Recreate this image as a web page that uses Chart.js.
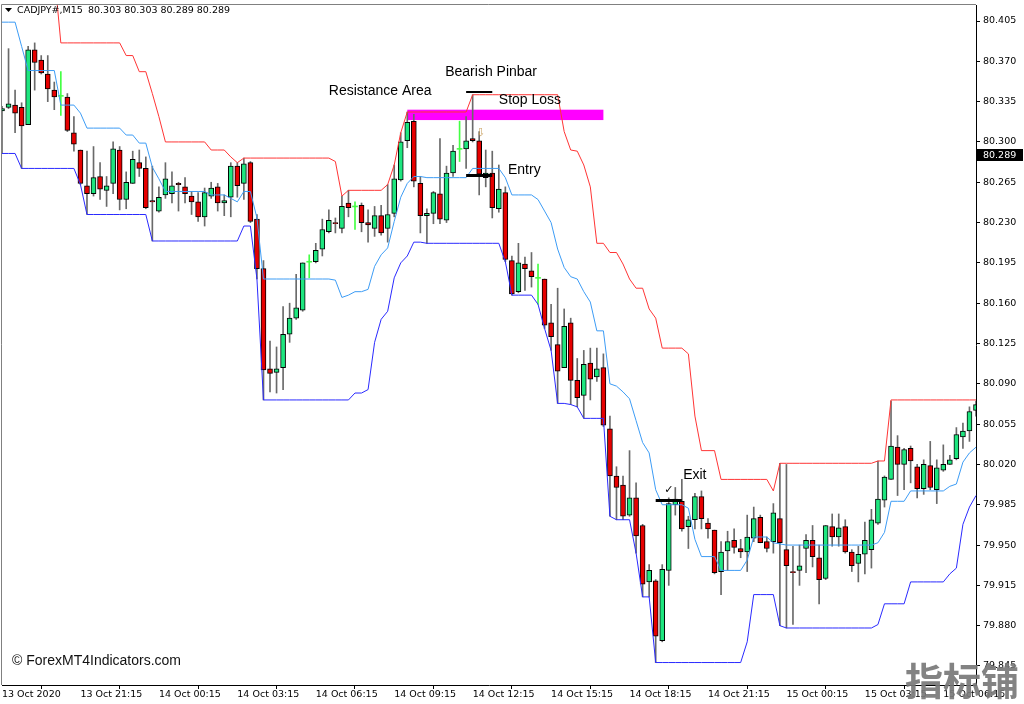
<!DOCTYPE html>
<html>
<head>
<meta charset="utf-8">
<script src="https://cdn.jsdelivr.net/npm/chart.js@4.4.0/dist/chart.umd.min.js"></script>
<style>
  html, body { margin: 0; padding: 0; background: #fff; }
  #wrap { position: relative; width: 1024px; height: 704px; }
</style>
</head>
<body>
<div id="wrap"><canvas id="myChart" width="1024" height="704"></canvas></div>
<script>
// CADJPY M15 candles (bar 0 = 13 Oct 18:15)
let opens = [
  80.327, 80.330, 80.332, 80.330, 80.315, 80.380, 80.371, 80.359, 80.345, 80.340,
  80.339, 80.308, 80.293, 80.262, 80.255, 80.270, 80.258, 80.264, 80.293, 80.250,
  80.264, 80.282, 80.277, 80.249, 80.240, 80.254, 80.255, 80.264, 80.261, 80.253,
  80.248, 80.235, 80.253, 80.261, 80.247, 80.252, 80.279, 80.264, 80.282, 80.233,
  80.190, 80.103, 80.100, 80.104, 80.133, 80.147, 80.154, 80.196, 80.196, 80.207,
  80.222, 80.230, 80.225, 80.247, 80.244, 80.245, 80.230, 80.225, 80.236, 80.225,
  80.238, 80.267, 80.301, 80.318, 80.264, 80.236, 80.238, 80.255, 80.232, 80.273,
  80.294, 80.294, 80.303, 80.301, 80.269, 80.273, 80.242, 80.256, 80.197, 80.170,
  80.194, 80.188, 80.182, 80.181, 80.143, 80.124, 80.104, 80.143, 80.093, 80.080,
  80.108, 80.096, 80.104, 80.051, 80.010, 80.002, 79.976, 79.991, 79.967, 79.918,
  79.919, 79.867, 79.928, 79.985, 79.988, 79.966, 79.972, 79.992, 79.969, 79.963,
  79.927, 79.945, 79.954, 79.947, 79.944, 79.956, 79.974, 79.953, 79.953, 79.973,
  79.946, 79.927, 79.928, 79.947, 79.954, 79.939, 79.921, 79.966, 79.957, 79.966,
  79.944, 79.934, 79.942, 79.946, 79.969, 79.989, 80.007, 80.035, 80.020, 80.034,
  80.018, 79.999, 80.019, 79.998, 80.015, 80.020, 80.025, 80.044, 80.049, 80.067
];
let highs = [
  80.331, 80.381, 80.345, 80.334, 80.383, 80.386, 80.375, 80.375, 80.352, 80.361,
  80.342, 80.322, 80.293, 80.292, 80.296, 80.282, 80.270, 80.300, 80.296, 80.274,
  80.292, 80.293, 80.287, 80.279, 80.261, 80.282, 80.274, 80.265, 80.269, 80.257,
  80.256, 80.260, 80.265, 80.264, 80.254, 80.282, 80.282, 80.286, 80.283, 80.237,
  80.197, 80.127, 80.122, 80.157, 80.160, 80.185, 80.195, 80.202, 80.212, 80.233,
  80.241, 80.234, 80.253, 80.258, 80.248, 80.247, 80.241, 80.244, 80.245, 80.263,
  80.280, 80.308, 80.326, 80.324, 80.270, 80.242, 80.257, 80.303, 80.279, 80.297,
  80.318, 80.322, 80.341, 80.309, 80.293, 80.292, 80.280, 80.261, 80.201, 80.212,
  80.200, 80.204, 80.194, 80.181, 80.159, 80.173, 80.155, 80.147, 80.112, 80.119,
  80.121, 80.121, 80.116, 80.062, 80.018, 80.010, 80.032, 80.004, 79.968, 79.933,
  79.920, 79.933, 79.991, 80.000, 80.007, 79.975, 79.995, 79.997, 79.973, 79.963,
  79.953, 79.962, 79.964, 79.955, 79.976, 79.983, 79.976, 79.957, 79.986, 80.021,
  80.020, 79.949, 79.950, 79.959, 79.967, 79.950, 79.967, 79.977, 79.977, 79.972,
  79.946, 79.949, 79.970, 79.981, 80.023, 80.010, 80.075, 80.045, 80.034, 80.036,
  80.020, 80.024, 80.040, 80.024, 80.037, 80.028, 80.052, 80.056, 80.070, 80.075
];
let lows = [
  80.290, 80.329, 80.308, 80.277, 80.315, 80.345, 80.359, 80.335, 80.328, 80.323,
  80.309, 80.292, 80.263, 80.237, 80.253, 80.250, 80.244, 80.255, 80.241, 80.242,
  80.264, 80.270, 80.242, 80.214, 80.239, 80.251, 80.247, 80.240, 80.247, 80.237,
  80.231, 80.227, 80.251, 80.240, 80.236, 80.235, 80.252, 80.250, 80.230, 80.181,
  80.076, 80.083, 80.082, 80.085, 80.126, 80.146, 80.153, 80.182, 80.195, 80.201,
  80.221, 80.221, 80.221, 80.235, 80.224, 80.222, 80.213, 80.218, 80.219, 80.213,
  80.235, 80.266, 80.295, 80.261, 80.221, 80.212, 80.229, 80.229, 80.230, 80.270,
  80.283, 80.277, 80.300, 80.254, 80.261, 80.234, 80.239, 80.196, 80.167, 80.169,
  80.171, 80.174, 80.159, 80.138, 80.119, 80.073, 80.104, 80.072, 80.070, 80.060,
  80.076, 80.092, 80.053, 79.975, 79.972, 79.972, 79.975, 79.943, 79.905, 79.905,
  79.848, 79.866, 79.915, 79.976, 79.962, 79.947, 79.964, 79.964, 79.956, 79.925,
  79.907, 79.928, 79.943, 79.939, 79.927, 79.953, 79.952, 79.944, 79.943, 79.880,
  79.878, 79.881, 79.915, 79.926, 79.931, 79.899, 79.920, 79.949, 79.949, 79.943,
  79.927, 79.918, 79.925, 79.930, 79.968, 79.983, 80.007, 79.993, 79.998, 80.004,
  79.991, 79.994, 79.998, 79.986, 80.014, 80.020, 80.024, 80.034, 80.040, 80.062
];
let closes = [
  80.329, 80.333, 80.325, 80.314, 80.380, 80.369, 80.360, 80.346, 80.339, 80.340,
  80.310, 80.298, 80.264, 80.255, 80.269, 80.259, 80.262, 80.294, 80.250, 80.265,
  80.285, 80.277, 80.243, 80.248, 80.252, 80.268, 80.262, 80.263, 80.255, 80.248,
  80.235, 80.256, 80.260, 80.247, 80.249, 80.279, 80.262, 80.281, 80.231, 80.190,
  80.102, 80.099, 80.103, 80.133, 80.147, 80.156, 80.195, 80.196, 80.206, 80.224,
  80.232, 80.229, 80.244, 80.243, 80.244, 80.230, 80.228, 80.236, 80.221, 80.237,
  80.268, 80.300, 80.317, 80.266, 80.236, 80.238, 80.256, 80.233, 80.273, 80.292,
  80.294, 80.301, 80.301, 80.272, 80.273, 80.243, 80.259, 80.198, 80.168, 80.195,
  80.190, 80.183, 80.182, 80.141, 80.131, 80.101, 80.140, 80.093, 80.078, 80.107,
  80.094, 80.103, 80.054, 80.010, 80.000, 79.975, 79.991, 79.958, 79.916, 79.928,
  79.871, 79.929, 79.986, 79.990, 79.964, 79.972, 79.992, 79.973, 79.964, 79.926,
  79.944, 79.953, 79.948, 79.944, 79.957, 79.973, 79.952, 79.947, 79.978, 79.952,
  79.932, 79.926, 79.932, 79.954, 79.940, 79.920, 79.967, 79.957, 79.965, 79.944,
  79.932, 79.942, 79.954, 79.972, 79.990, 80.009, 80.036, 80.020, 80.033, 80.023,
  79.999, 80.020, 80.000, 80.017, 80.020, 80.024, 80.046, 80.049, 80.066, 80.072
];

// channel lines (upper red, middle light blue, lower blue)
let upperBand = [
  80.518, 80.518, 80.518, 80.447, 80.447, 80.447, 80.447, 80.447, 80.447, 80.386,
  80.386, 80.386, 80.386, 80.386, 80.386, 80.386, 80.386, 80.386, 80.386, 80.375,
  80.375, 80.361, 80.361, 80.342, 80.322, 80.300, 80.300, 80.300, 80.300, 80.300,
  80.300, 80.300, 80.293, 80.293, 80.293, 80.287, 80.282, 80.286, 80.286, 80.286,
  80.286, 80.286, 80.286, 80.286, 80.286, 80.286, 80.286, 80.286, 80.286, 80.286,
  80.286, 80.283, 80.253, 80.258, 80.258, 80.258, 80.258, 80.258, 80.258, 80.263,
  80.280, 80.308, 80.326, 80.326, 80.326, 80.326, 80.326, 80.326, 80.326, 80.326,
  80.326, 80.326, 80.341, 80.341, 80.341, 80.341, 80.341, 80.341, 80.341, 80.341,
  80.341, 80.341, 80.341, 80.341, 80.341, 80.341, 80.309, 80.293, 80.292, 80.280,
  80.261, 80.212, 80.212, 80.204, 80.204, 80.194, 80.181, 80.173, 80.173, 80.155,
  80.147, 80.121, 80.121, 80.121, 80.121, 80.116, 80.062, 80.032, 80.032, 80.032,
  80.007, 80.007, 80.007, 80.007, 80.007, 80.007, 80.007, 80.007, 79.997, 80.021,
  80.021, 80.021, 80.021, 80.021, 80.021, 80.021, 80.021, 80.021, 80.021, 80.021,
  80.021, 80.021, 80.021, 80.021, 80.023, 80.023, 80.076, 80.076, 80.076, 80.076,
  80.076, 80.076, 80.076, 80.076, 80.076, 80.076, 80.076, 80.076, 80.076, 80.076
];
let middleBand = [
  80.404, 80.404, 80.404, 80.383, 80.362, 80.362, 80.362, 80.362, 80.362, 80.332,
  80.332, 80.332, 80.325, 80.312, 80.312, 80.312, 80.312, 80.312, 80.312, 80.306,
  80.306, 80.299, 80.299, 80.278, 80.268, 80.257, 80.257, 80.257, 80.257, 80.257,
  80.257, 80.257, 80.254, 80.254, 80.254, 80.251, 80.248, 80.257, 80.257, 80.234,
  80.181, 80.181, 80.181, 80.181, 80.181, 80.181, 80.181, 80.181, 80.181, 80.181,
  80.181, 80.180, 80.165, 80.167, 80.170, 80.170, 80.172, 80.192, 80.202, 80.208,
  80.231, 80.252, 80.264, 80.270, 80.270, 80.269, 80.269, 80.269, 80.269, 80.269,
  80.269, 80.269, 80.277, 80.277, 80.277, 80.277, 80.277, 80.269, 80.254, 80.254,
  80.254, 80.254, 80.250, 80.240, 80.230, 80.207, 80.191, 80.183, 80.181, 80.170,
  80.161, 80.136, 80.136, 80.090, 80.088, 80.083, 80.077, 80.058, 80.039, 80.030,
  79.998, 79.985, 79.985, 79.985, 79.985, 79.982, 79.955, 79.940, 79.940, 79.940,
  79.928, 79.928, 79.928, 79.928, 79.937, 79.957, 79.957, 79.957, 79.952, 79.951,
  79.950, 79.950, 79.950, 79.950, 79.950, 79.950, 79.950, 79.950, 79.950, 79.950,
  79.950, 79.950, 79.950, 79.950, 79.952, 79.961, 79.988, 79.988, 79.988, 79.997,
  79.997, 79.997, 79.997, 79.997, 79.997, 80.001, 80.003, 80.022, 80.030, 80.035
];
let lowerBand = [
  80.290, 80.290, 80.290, 80.277, 80.277, 80.277, 80.277, 80.277, 80.277, 80.277,
  80.277, 80.277, 80.263, 80.237, 80.237, 80.237, 80.237, 80.237, 80.237, 80.237,
  80.237, 80.237, 80.237, 80.214, 80.214, 80.214, 80.214, 80.214, 80.214, 80.214,
  80.214, 80.214, 80.214, 80.214, 80.214, 80.214, 80.214, 80.227, 80.227, 80.181,
  80.076, 80.076, 80.076, 80.076, 80.076, 80.076, 80.076, 80.076, 80.076, 80.076,
  80.076, 80.076, 80.076, 80.076, 80.082, 80.082, 80.085, 80.126, 80.146, 80.153,
  80.182, 80.195, 80.201, 80.213, 80.213, 80.212, 80.212, 80.212, 80.212, 80.212,
  80.212, 80.212, 80.212, 80.212, 80.212, 80.212, 80.212, 80.196, 80.167, 80.167,
  80.167, 80.167, 80.159, 80.138, 80.119, 80.073, 80.073, 80.072, 80.070, 80.060,
  80.060, 80.060, 80.060, 79.975, 79.972, 79.972, 79.972, 79.943, 79.905, 79.905,
  79.848, 79.848, 79.848, 79.848, 79.848, 79.848, 79.848, 79.848, 79.848, 79.848,
  79.848, 79.848, 79.848, 79.848, 79.866, 79.907, 79.907, 79.907, 79.907, 79.880,
  79.878, 79.878, 79.878, 79.878, 79.878, 79.878, 79.878, 79.878, 79.878, 79.878,
  79.878, 79.878, 79.878, 79.878, 79.881, 79.899, 79.899, 79.899, 79.899, 79.918,
  79.918, 79.918, 79.918, 79.918, 79.918, 79.925, 79.930, 79.968, 79.983, 79.993
];

let priceTicks = [80.405, 80.370, 80.335, 80.300, 80.265, 80.230, 80.195, 80.160,
  80.125, 80.090, 80.055, 80.020, 79.985, 79.950, 79.915, 79.880, 79.845];
let timeTicks = ['13 Oct 2020', '13 Oct 21:15', '14 Oct 00:15', '14 Oct 03:15',
  '14 Oct 06:15', '14 Oct 09:15', '14 Oct 12:15', '14 Oct 15:15', '14 Oct 18:15',
  '14 Oct 21:15', '15 Oct 00:15', '15 Oct 03:15', '15 Oct 06:15'];
let barsPerTick = 12;
let lastPrice = 80.289;

// one category per M15 bar
let barTimes = opens.map(function (o, i) {
  let m = 18 * 60 + 15 + 15 * i;
  let day = 13 + Math.floor(m / 1440);
  m = m % 1440;
  return day + ' Oct ' + String(Math.floor(m / 60)).padStart(2, '0') + ':' + String(m % 60).padStart(2, '0');
});

const BULL = '#1ee67f';
const BEAR = '#e60000';
const DOJI = '#44ff44';
const WICK = '#6a6a6a';
const axisFont = { family: 'DejaVu Sans', size: 9.5 };

function isDoji(i) { return opens[i] === closes[i]; }

// annotations drawn on top of the candles, placed through the scales
const notes = {
  id: 'notes',
  beforeDatasetsDraw(chart) {
    const ctx = chart.ctx, xs = chart.scales.x, ys = chart.scales.y;
    ctx.save();
    ctx.fillStyle = '#ff00ff';
    const x1 = xs.getPixelForValue(62), x2 = xs.getPixelForValue(92);
    const y1 = ys.getPixelForValue(80.328), y2 = ys.getPixelForValue(80.319);
    ctx.fillRect(x1, y1, x2 - x1, y2 - y1);
    ctx.restore();
  },
  afterDatasetsDraw(chart) {
    const ctx = chart.ctx, xs = chart.scales.x, ys = chart.scales.y;
    ctx.save();
    ctx.strokeStyle = '#000';
    ctx.lineCap = 'butt';
    function seg(a, b, price, w) {
      const y = Math.round(ys.getPixelForValue(price)) + (w % 2 ? 0.5 : 0);
      ctx.lineWidth = w;
      ctx.beginPath();
      ctx.moveTo(xs.getPixelForValue(a), y);
      ctx.lineTo(xs.getPixelForValue(b), y);
      ctx.stroke();
    }
    seg(71, 75, 80.3437, 2);
    seg(71, 75, 80.2712, 3);
    seg(100, 104, 79.989, 3);

    ctx.fillStyle = '#000';
    ctx.textBaseline = 'middle';
    ctx.textAlign = 'left';
    ctx.font = '14px "Liberation Sans", Arial, sans-serif';
    function label(txt, idx, price) {
      ctx.fillText(txt, xs.getPixelForValue(idx), ys.getPixelForValue(price));
    }
    label('Resistance Area', 50.0, 80.3442);
    label('Bearish Pinbar', 67.8, 80.3607);
    label('Stop Loss', 76.0, 80.3364);
    label('Entry', 77.4, 80.2756);
    label('Exit', 104.2, 80.0108);
    ctx.font = '11px "DejaVu Sans", sans-serif';
    label('\u2713', 101.3, 79.9978);
    ctx.fillStyle = '#c8a060';
    label('\u21e9', 72.5, 80.3078);
    ctx.restore();
  },
  afterDraw(chart) {
    const ctx = chart.ctx, a = chart.chartArea, ys = chart.scales.y;
    ctx.save();
    // frame around the plot
    ctx.strokeStyle = '#808080';
    ctx.lineWidth = 1;
    ctx.beginPath();
    ctx.moveTo(1.5, a.bottom);
    ctx.lineTo(1.5, a.top - 0.5);
    ctx.lineTo(a.right, a.top - 0.5);
    ctx.stroke();

    // header
    ctx.fillStyle = '#000';
    ctx.textBaseline = 'middle';
    ctx.textAlign = 'left';
    ctx.beginPath();
    ctx.moveTo(5, 8); ctx.lineTo(12, 8); ctx.lineTo(8.5, 12); ctx.closePath();
    ctx.fill();
    ctx.font = '9.5px "DejaVu Sans", sans-serif';
    ctx.fillText('CADJPY#,M15', 17, 10.5);
    ctx.fillText('80.303 80.303 80.289 80.289', 88, 10.5);

    // copyright
    ctx.font = '14px "Liberation Sans", Arial, sans-serif';
    ctx.fillStyle = '#111';
    ctx.fillText('\u00a9 ForexMT4Indicators.com', 12, 661);

    // current price box
    const py = Math.round(ys.getPixelForValue(lastPrice));
    ctx.fillStyle = '#000';
    ctx.fillRect(a.right + 1, py - 6, 46, 12);
    ctx.fillStyle = '#fff';
    ctx.font = '9.5px "DejaVu Sans", sans-serif';
    ctx.fillText(lastPrice.toFixed(3), a.right + 7, py + 0.5);

    // watermark
    ctx.fillStyle = 'rgba(120,120,120,0.92)';
    ctx.textAlign = 'center';
    ctx.font = 'bold 38px "Noto Sans CJK SC", sans-serif';
    ctx.fillText('\u6307\u6807\u94fa', 962, 681);
    ctx.restore();
  }
};

let myChart = document.getElementById('myChart').getContext('2d');

let newChart = new Chart(myChart, {
  type: 'bar',
  data: {
    labels: barTimes,
    datasets: [
      {
        type: 'line', label: 'Upper', data: upperBand,
        borderColor: '#ff3535', borderWidth: 1, pointRadius: 0, tension: 0, order: 0
      },
      {
        type: 'line', label: 'Middle', data: middleBand,
        borderColor: '#3d9cf5', borderWidth: 1, pointRadius: 0, tension: 0, order: 0
      },
      {
        type: 'line', label: 'Lower', data: lowerBand,
        borderColor: '#2a2aff', borderWidth: 1, pointRadius: 0, tension: 0, order: 0
      },
      {
        label: 'Wicks',
        data: lows.map((l, i) => [l, highs[i]]),
        backgroundColor: (c) => isDoji(c.dataIndex) ? DOJI : WICK,
        barThickness: 1, grouped: false, order: 2
      },
      {
        label: 'Bodies',
        data: opens.map((o, i) => isDoji(i) ? [o - 0.0004, o + 0.0004] : [o, closes[i]]),
        backgroundColor: (c) => {
          const i = c.dataIndex;
          if (isDoji(i)) return DOJI;
          return closes[i] > opens[i] ? BULL : BEAR;
        },
        borderColor: '#000',
        borderWidth: (c) => isDoji(c.dataIndex) ? 0 : 1,
        borderSkipped: false,
        barThickness: 5, grouped: false, order: 1
      }
    ]
  },
  options: {
    responsive: false,
    animation: false,
    maintainAspectRatio: false,
    layout: { padding: { left: 2, top: 5, right: 0, bottom: 0 } },
    plugins: {
      legend: { display: false },
      tooltip: { enabled: false },
      title: { display: false }
    },
    scales: {
      x: {
        type: 'category',
        offset: false,
        afterBuildTicks: (scale) => {
          scale.ticks = timeTicks.map((t, k) => ({ value: k * barsPerTick }));
        },
        afterFit: (scale) => { scale.height = 19; scale.paddingLeft = 0; scale.paddingRight = 0; },
        ticks: {
          autoSkip: false, maxRotation: 0, minRotation: 0, align: 'start',
          padding: 0, color: '#000', font: axisFont,
          callback: (value, index) => timeTicks[index]
        },
        grid: { drawOnChartArea: false, drawTicks: true, tickLength: 4, color: '#000' },
        border: { display: true, color: '#000' }
      },
      y: {
        position: 'right',
        min: 79.8285,
        max: 80.4189,
        bounds: 'data',
        beginAtZero: false,
        afterBuildTicks: (scale) => {
          scale.ticks = priceTicks.map((v) => ({ value: v }));
        },
        afterFit: (scale) => { scale.width = 48; scale.paddingTop = 0; scale.paddingBottom = 0; },
        ticks: {
          padding: 3, color: '#000', font: axisFont,
          callback: (v) => Number(v).toFixed(3)
        },
        grid: { drawOnChartArea: false, drawTicks: true, tickLength: 4, color: '#000' },
        border: { display: true, color: '#000' }
      }
    }
  },
  plugins: [notes]
});
</script>
</body>
</html>
